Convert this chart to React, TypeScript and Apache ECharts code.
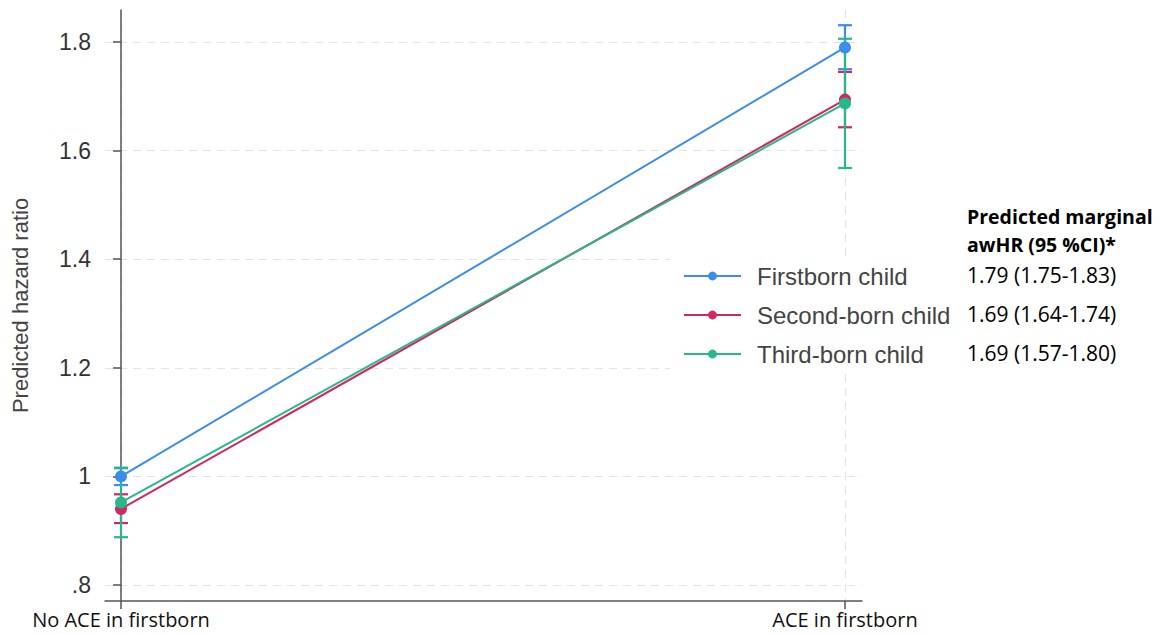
import React, { useEffect, useRef } from "react";
import * as echarts from "echarts";

const categories = ["No ACE in firstborn", "ACE in firstborn"];
const seriesNames = ["Firstborn child", "Second-born child", "Third-born child"];
const colors = ["#3b8ced", "#d2285d", "#25b98a"];
const firstborn = [1.0, 1.79];
const secondborn = [0.94, 1.694];
const thirdborn = [0.952, 1.687];
const firstbornLow = [0.984, 1.75];
const firstbornHigh = [1.016, 1.831];
const secondbornLow = [0.914, 1.643];
const secondbornHigh = [0.967, 1.745];
const thirdbornLow = [0.888, 1.568];
const thirdbornHigh = [1.015, 1.806];
const yTicks = [0.8, 1, 1.2, 1.4, 1.6, 1.8];
const yTickLabels = [".8", "1", "1.2", "1.4", "1.6", "1.8"];
const tableHeader = ["Predicted marginal", "awHR (95 %CI)*"];
const tableRows = ["1.79 (1.75-1.83)", "1.69 (1.64-1.74)", "1.69 (1.57-1.80)"];

const values = [firstborn, secondborn, thirdborn];
const lows = [firstbornLow, secondbornLow, thirdbornLow];
const highs = [firstbornHigh, secondbornHigh, thirdbornHigh];

export default function App() {
  const ref = useRef<HTMLDivElement>(null);
  useEffect(() => {
    if (!ref.current) return;
    const chart = echarts.init(ref.current, null, { renderer: "svg" });
    const lineSeries = seriesNames.map((name, i) => ({
      name,
      type: "line",
      data: values[i].map((v, j) => [j, v]),
      symbol: "circle",
      symbolSize: 12,
      lineStyle: { color: colors[i], width: 2 },
      itemStyle: { color: colors[i] },
      z: 3,
    }));
    const errSeries = seriesNames.map((name, i) => ({
      type: "custom",
      name: name + " CI",
      data: lows[i].map((lo, j) => [j, lo, highs[i][j]]),
      encode: { x: 0, y: [1, 2] },
      z: 2,
      renderItem: (params: any, api: any) => {
        const x = api.value(0);
        const p1 = api.coord([x, api.value(1)]);
        const p2 = api.coord([x, api.value(2)]);
        const hw = 7;
        const style = { stroke: colors[i], lineWidth: 2.2 };
        return {
          type: "group",
          children: [
            { type: "line", shape: { x1: p1[0], y1: p1[1], x2: p2[0], y2: p2[1] }, style },
            { type: "line", shape: { x1: p1[0] - hw, y1: p1[1], x2: p1[0] + hw, y2: p1[1] }, style },
            { type: "line", shape: { x1: p2[0] - hw, y1: p2[1], x2: p2[0] + hw, y2: p2[1] }, style },
          ],
        };
      },
    }));
    const textFont = "'Open Sans', sans-serif";
    const graphics: any[] = [];
    tableHeader.forEach((t, i) => {
      graphics.push({
        type: "text",
        left: 967,
        top: 206 + i * 28,
        style: { text: t, font: `bold 19.5px ${textFont}`, fill: "#000" },
      });
    });
    tableRows.forEach((t, i) => {
      graphics.push({
        type: "text",
        left: 967,
        top: 264 + i * 39,
        style: { text: t, font: `21px ${textFont}`, fill: "#000" },
      });
    });
    chart.setOption({
      animation: false,
      grid: { left: 105, right: 301, top: 10, bottom: 33, containLabel: false },
      xAxis: {
        type: "value",
        min: -0.0221,
        max: 1.0235,
        axisLine: { show: true, lineStyle: { color: "#555", width: 1.5 } },
        axisTick: { show: true, customValues: [0, 1], length: 8, lineStyle: { color: "#555", width: 1.5 } },
        axisLabel: {
          customValues: [0, 1],
          formatter: (v: number) => categories[Math.round(v)] ?? "",
          fontFamily: textFont,
          fontSize: 20,
          color: "#111",
          margin: 8,
        },
        splitLine: { show: true, lineStyle: { color: "#e3e3e3", type: [8, 6], width: 1.2 } },
      },
      yAxis: {
        type: "value",
        min: 0.7705,
        max: 1.859,
        name: "Predicted hazard ratio",
        nameLocation: "middle",
        nameGap: 74,
        nameTextStyle: { fontFamily: "'Liberation Sans', Arial", fontSize: 22, color: "#444" },
        axisLine: { show: true, lineStyle: { color: "#555", width: 1.5 } },
        axisTick: { show: true, customValues: yTicks, length: 8, lineStyle: { color: "#555", width: 1.5 } },
        axisLabel: {
          customValues: yTicks,
          formatter: (v: number) => {
            const idx = yTicks.findIndex((t) => Math.abs(t - v) < 1e-6);
            return idx >= 0 ? yTickLabels[idx] : "";
          },
          fontFamily: "'Liberation Sans', Arial",
          fontSize: 23,
          color: "#333",
          margin: 14,
        },
        splitLine: { show: true, lineStyle: { color: "#e3e3e3", type: [8, 6], width: 1.2 } },
      },
      legend: {
        data: seriesNames,
        orient: "vertical",
        left: 670,
        top: 258,
        padding: [6, 8, 8, 13],
        backgroundColor: "#fff",
        itemWidth: 57,
        itemHeight: 11,
        itemGap: 15,
        textStyle: {
          fontFamily: "'Liberation Sans', Arial",
          fontSize: 24,
          lineHeight: 24,
          color: "#444",
          padding: [0, 0, 0, 11],
        },
      },
      graphic: graphics,
      series: [...errSeries, ...lineSeries],
    });
    return () => chart.dispose();
  }, []);
  return (
    <div
      ref={ref}
      style={{ position: "fixed", left: 0, top: 0, width: 1163, height: 634, background: "#fff" }}
    />
  );
}
